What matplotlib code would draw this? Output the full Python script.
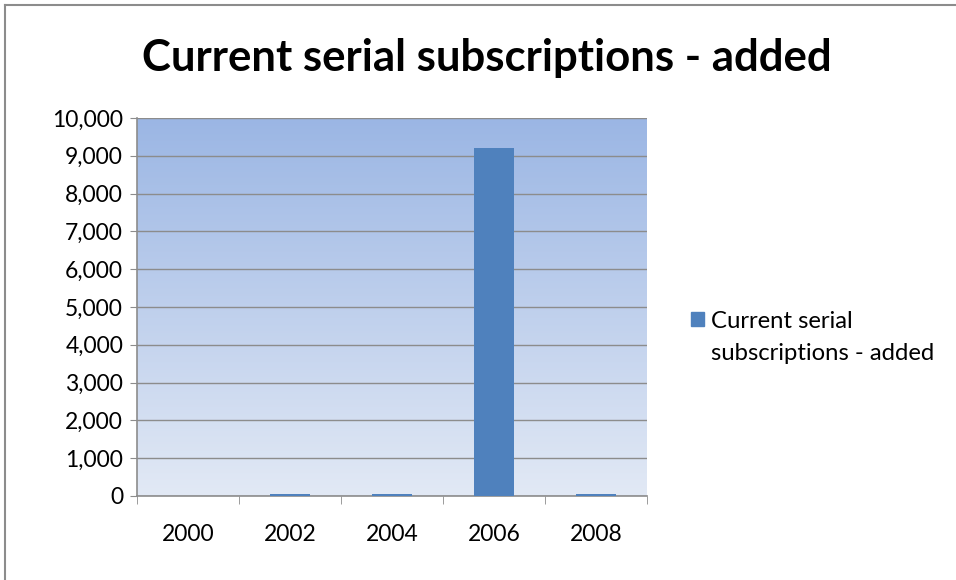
import matplotlib.pyplot as plt
import numpy as np
from matplotlib.colors import LinearSegmentedColormap
from matplotlib.lines import Line2D
from matplotlib.patches import Rectangle
from matplotlib.ticker import FuncFormatter, FixedLocator

YEARS = ["2000", "2002", "2004", "2006", "2008"]
VALUES = [0, 40, 40, 9200, 40]
LEGEND_LINES = ["Current serial", "subscriptions - added"]
TITLE = "Current serial subscriptions - added"

BAR_COLOR = "#4F81BD"
GRID_COLOR = "#8C8C8C"
W, H = 956, 580

plt.rcParams["font.family"] = ["Lato", "DejaVu Sans"]

fig = plt.figure(figsize=(W / 100, H / 100), dpi=100)
ax = fig.add_axes([137 / W, 1 - 496 / H, 510 / W, 378 / H])

# gradient plot-area background
grad = LinearSegmentedColormap.from_list("bg", ["#E2E9F5", "#9BB6E4"])
ax.imshow(np.linspace(0, 1, 256).reshape(-1, 1), cmap=grad, aspect="auto",
          extent=[-0.5, len(YEARS) - 0.5, 0, 10000], origin="lower", zorder=0)

x = np.arange(len(YEARS))
ax.bar(x, VALUES, width=0.4, color=BAR_COLOR, zorder=3)

ax.set_xlim(-0.5, len(YEARS) - 0.5)
ax.set_ylim(0, 10000)
ax.yaxis.set_major_locator(FixedLocator(np.arange(0, 10001, 1000)))
ax.yaxis.set_major_formatter(FuncFormatter(lambda v, _: f"{int(v):,}"))
ax.grid(axis="y", color=GRID_COLOR, linewidth=1.0, zorder=1)
ax.set_axisbelow(True)

ax.set_xticks(x)
ax.set_xticklabels(YEARS)
ax.xaxis.set_minor_locator(FixedLocator(np.arange(-0.5, len(YEARS), 1)))
ax.tick_params(axis="x", which="major", length=0, pad=20, labelsize=16.5)
ax.tick_params(axis="x", which="minor", length=6, color=GRID_COLOR, direction="out")
ax.tick_params(axis="y", length=5, color=GRID_COLOR, labelsize=16.5, pad=5)

for side in ["top", "right"]:
    ax.spines[side].set_visible(False)
for side in ["left", "bottom"]:
    ax.spines[side].set_color(GRID_COLOR)
    ax.spines[side].set_linewidth(1.2)

fig.text(487 / W, 1 - 58 / H, TITLE, ha="center", va="center",
         fontsize=31.5, fontweight="bold")

# legend: square key aligned with the first text line, like Excel
fig.add_artist(Rectangle((691 / W, 1 - 326 / H), 13 / W, 14 / H,
                         transform=fig.transFigure, color=BAR_COLOR))
for i, line in enumerate(LEGEND_LINES):
    fig.text(711 / W, 1 - (328 + 32 * i) / H, line, ha="left", va="baseline",
             fontsize=17.2)

# outer chart border (top and left visible in reference)
fig.add_artist(Line2D([5 / W, 1], [1 - 5 / H, 1 - 5 / H], color=GRID_COLOR, linewidth=1.5))
fig.add_artist(Line2D([5 / W, 5 / W], [0, 1 - 5 / H], color=GRID_COLOR, linewidth=1.5))

fig.savefig("out.png", dpi=100)
